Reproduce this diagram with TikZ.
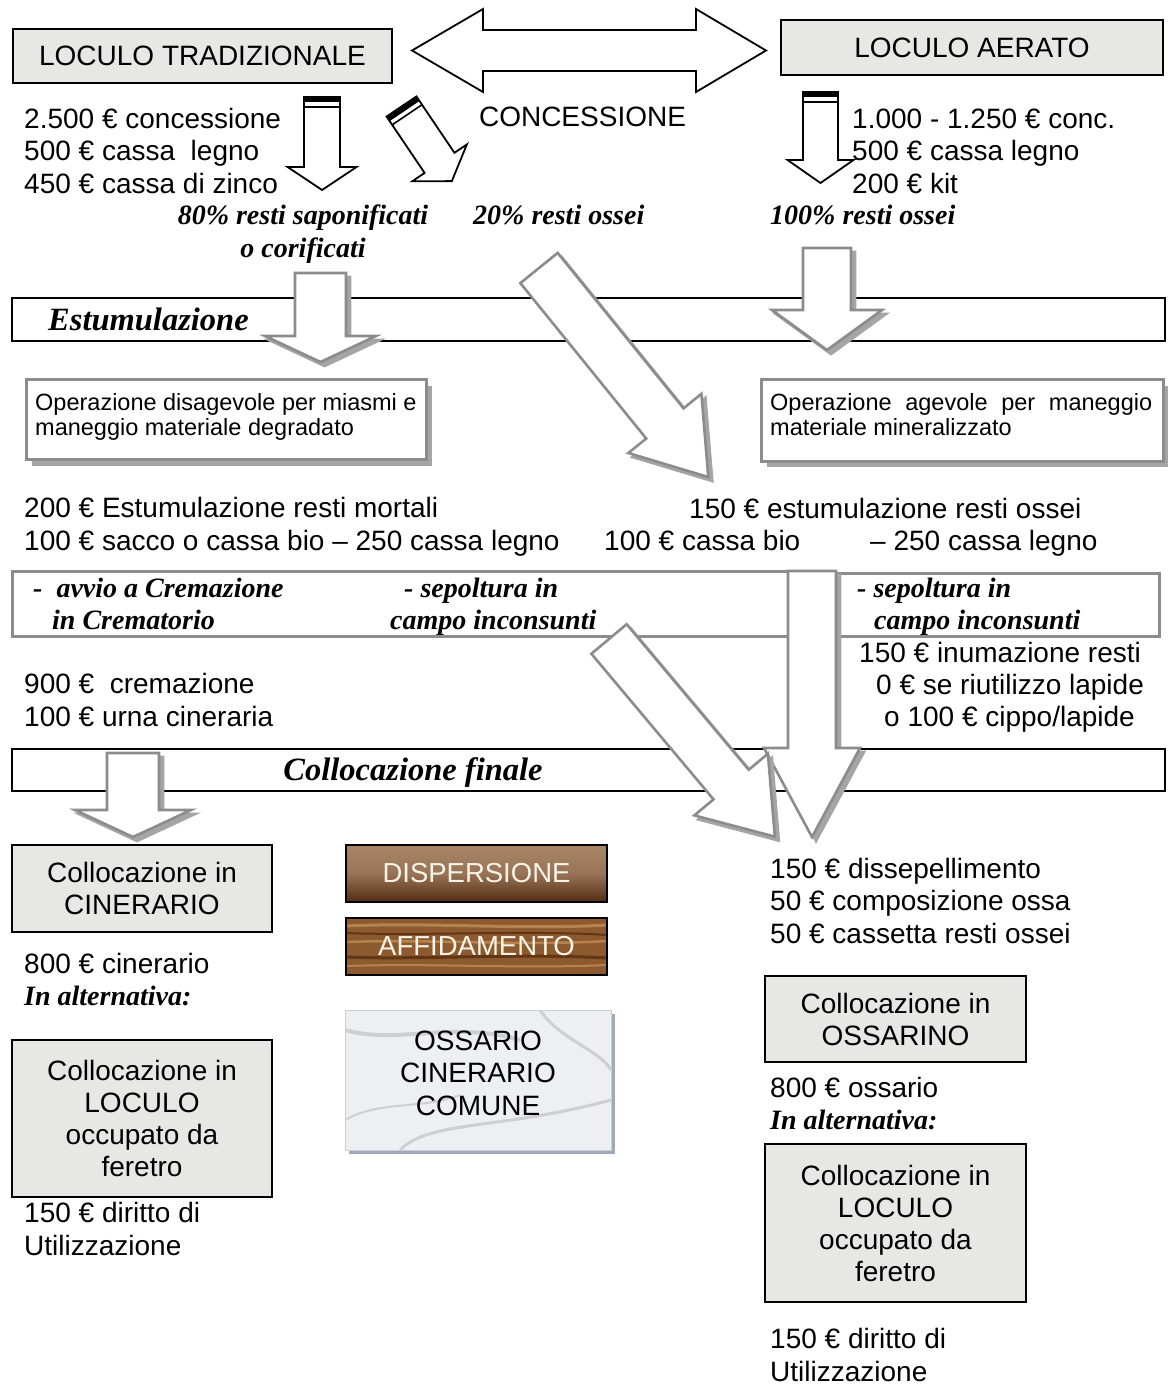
\documentclass[tikz,border=0pt]{standalone}
\usepackage{fontspec}
\setmainfont{Liberation Sans}
\newfontfamily\tnr{Liberation Serif}
\definecolor{granite}{RGB}{231,231,228}
\definecolor{gline}{RGB}{140,140,140}
\definecolor{gshad}{RGB}{165,165,165}
\definecolor{brownA}{RGB}{170,134,104}
\definecolor{brownB}{RGB}{82,44,18}
\definecolor{woodA}{RGB}{140,90,46}
\definecolor{woodB}{RGB}{96,54,22}
\definecolor{woodC}{RGB}{182,130,78}
\definecolor{marble}{RGB}{238,239,242}
\definecolor{marbleV}{RGB}{205,207,212}
\definecolor{marbleS}{RGB}{160,168,186}
\definecolor{cream}{RGB}{250,244,232}
\newcommand\BArrow[5]{\draw[#1] (0,-#3) -- ({#2-#5},-#3) -- ({#2-#5},-#4) -- (#2,0) -- ({#2-#5},#4) -- ({#2-#5},#3) -- (0,#3) -- cycle;}
\newcommand\GArrow[7]{%
  \begin{scope}[shift={({#1+4},{#2+4})},rotate=#3]\BArrow{gsh}{#4}{#5}{#6}{#7}\end{scope}
  \begin{scope}[shift={(#1,#2)},rotate=#3]\BArrow{gar}{#4}{#5}{#6}{#7}\end{scope}}
\newcommand\KArrow[7]{%
  \begin{scope}[shift={(#1,#2)},rotate=#3]
    \BArrow{kar}{#4}{#5}{#6}{#7}
    \fill (0,-#5) rectangle (5.5,#5);
    \draw[line width=1.6pt] (10,-#5) -- (10,#5);
  \end{scope}}
\begin{document}
\begin{tikzpicture}[x=1pt,y=-1pt,
  t/.style={inner sep=0pt, anchor=base west, align=left, font=\fontsize{28}{32.5}\selectfont},
  ti/.style={inner sep=0pt, anchor=base west, align=left, font=\tnr\bfseries\itshape\fontsize{28}{32.5}\selectfont},
  hd/.style={inner sep=0pt, anchor=base west, font=\tnr\bfseries\itshape\fontsize{32.5}{36}\selectfont},
  sm/.style={inner sep=0pt, anchor=base west, align=left, font=\fontsize{23.5}{25}\selectfont},
  lbox/.style={draw=black, line width=2pt, fill=granite, inner sep=0pt, align=center, font=\fontsize{28}{32}\selectfont},
  band/.style={draw=black, line width=1.5pt, inner sep=0pt, anchor=north west},
  gbox/.style={draw=gline, line width=3pt, inner sep=0pt, anchor=north west},
  obox/.style={draw=gline, line width=3pt, fill=white, inner sep=0pt, anchor=north west},
  gar/.style={fill=white, draw=gline, line width=2.6pt, line join=miter},
  gsh/.style={fill=gshad, draw=gshad, line width=2.6pt, line join=miter},
  kar/.style={fill=white, draw=black, line width=1.8pt, line join=miter},
  wbox/.style={draw=black, line width=2pt, inner sep=0pt, text=cream, font=\fontsize{27.5}{32}\selectfont},
]
\useasboundingbox (0,0) rectangle (1167,1386);

% ---------- top ----------
\node[lbox, minimum width=379pt, minimum height=54pt] (lt) at (202.5,56) {LOCULO TRADIZIONALE};
\node[lbox, minimum width=382pt, minimum height=55pt] (la) at (972,47.5) {LOCULO AERATO};
\draw[kar] (412,50.5) -- (483,9) -- (483,30) -- (696,30) -- (696,9) -- (766,50.5) -- (696,92) -- (696,71) -- (483,71) -- (483,92) -- cycle;
\node[t, anchor=base] (conc) at (582.5,127) {CONCESSIONE};

\node[t] (c1) at (24,193) {2.500 € concessione\\500 € cassa\ \ legno\\450 € cassa di zinco};
\node[t] (c2) at (852,193) {1.000 - 1.250 € conc.\\500 € cassa legno\\200 € kit};

\KArrow{322}{97}{-90}{93}{18}{34.5}{23}
\KArrow{401.5}{106.5}{-56}{90}{18}{33}{22}
\KArrow{820.5}{92}{-90}{91}{17.5}{33}{23}

\node[ti, anchor=base, align=center] (l80) at (303,257) {80\% resti saponificati\\o corificati};
\node[ti] (l20) at (473,224) {20\% resti ossei};
\node[ti] (l100) at (770,224) {100\% resti ossei};

% ---------- Estumulazione ----------
\node[band, minimum width=1153pt, minimum height=43pt] (estu) at (11,297) {};
\node[hd] (estut) at (48,330) {Estumulazione};

\fill[gshad] (32,386) rectangle (432,466);
\node[obox, minimum width=400pt, minimum height=80pt] (op1) at (25,378) {};
\node[sm] (op1t) at (35,435) {Operazione disagevole per miasmi e\\maneggio materiale degradato};
\fill[gshad] (767,386) rectangle (1169,467);
\node[obox, minimum width=402pt, minimum height=82pt] (op2) at (760,378) {};
\node[sm] (op2t) at (770,435) {\makebox[382pt][s]{Operazione agevole per maneggio}\\materiale mineralizzato};

\GArrow{320.5}{273}{-90}{89}{25.5}{55.5}{26}
\GArrow{827}{248}{-90}{102}{24}{55}{40}
\GArrow{539}{268}{-51}{269}{24}{47}{69}

\node[t] (e1) at (24,550) {200 € Estumulazione resti mortali\\100 € sacco o cassa bio – 250 cassa legno};
\node[t] (e2) at (689,518) {150 € estumulazione resti ossei};
\node[t] (e3) at (604,550) {100 € cassa bio};
\node[t] (e4) at (870,550) {– 250 cassa legno};

% ---------- second band ----------
\node[gbox, minimum width=777pt, minimum height=65pt] (b2l) at (11,570) {};
\node[gbox, minimum width=322pt, minimum height=63pt] (b2r) at (836,572) {};
\node[ti] (cr1) at (33,597) {-\hspace{14pt}avvio a Cremazione};
\node[ti] (cr2) at (52,629) {in Crematorio};
\node[ti] (sp1) at (404,597) {- sepoltura in};
\node[ti] (sp2) at (390,629) {campo inconsunti};
\node[ti] (sp3) at (857,597) {- sepoltura in};
\node[ti] (sp4) at (874,629) {campo inconsunti};

\node[t] (i1) at (859,662) {150 € inumazione resti};
\node[t] (i2) at (876,694) {0 € se riutilizzo lapide};
\node[t] (i3) at (884,726) {o 100 € cippo/lapide};
\node[t] (cm) at (24,726) {900 €\ \ cremazione\\100 € urna cineraria};

% ---------- Collocazione finale ----------
\node[band, minimum width=1153pt, minimum height=42pt] (coll) at (11,748) {};
\node[hd, anchor=base] (collt) at (413,780) {Collocazione finale};

\GArrow{812}{571}{-90}{266}{24}{48}{89}
\GArrow{609}{639}{-50}{258}{23}{48}{68}
\GArrow{133}{753}{-90}{84}{26}{58}{27}

% ---------- lower left ----------
\node[lbox, minimum width=260pt, minimum height=87pt] (cin) at (142,888.5) {Collocazione in\\CINERARIO};
\node[t] (cin1) at (24,973) {800 € cinerario};
\node[ti] (alt1) at (24,1005) {In alternativa:};
\node[lbox, minimum width=260pt, minimum height=157pt] (loc1) at (142,1118.5) {Collocazione in\\LOCULO\\occupato da\\feretro};
\node[t] (dir1) at (24,1255) {150 € diritto di\\Utilizzazione};

% ---------- middle ----------
\shade[top color=brownA, bottom color=brownB, middle color=brownA!80!brownB] (346,845) rectangle (607,902);
\node[wbox, minimum width=261pt, minimum height=57pt] (disp) at (476.5,873.5) {DISPERSIONE};
\begin{scope}
  \clip (346,918) rectangle (607,975);
  \fill[woodA] (346,918) rectangle (607,975);
  \draw[woodC, line width=3pt] (346,926) .. controls (430,922) and (520,930) .. (607,925);
  \draw[woodB, line width=2pt] (346,933) .. controls (420,936) and (530,930) .. (607,935);
  \draw[woodC, line width=2.5pt] (346,942) .. controls (430,939) and (520,946) .. (607,941);
  \draw[woodB, line width=3pt] (346,957) .. controls (420,960) and (520,953) .. (607,958);
  \draw[woodC, line width=2pt] (346,966) .. controls (430,963) and (520,969) .. (607,965);
\end{scope}
\node[wbox, minimum width=261pt, minimum height=57pt] (affi) at (476.5,946.5) {AFFIDAMENTO};

\fill[marbleS] (349,1014) rectangle (615,1154);
\begin{scope}
  \clip (345,1010) rectangle (611,1150);
  \fill[marble] (345,1010) rectangle (611,1150);
  \draw[marbleV, line width=4pt] (345,1030) .. controls (400,1045) and (450,1020) .. (520,1040);
  \draw[marbleV, line width=3pt] (400,1150) .. controls (430,1120) and (500,1130) .. (611,1100);
  \draw[marbleV, line width=2pt] (345,1120) .. controls (380,1100) and (420,1110) .. (460,1095);
  \draw[marbleV, line width=3pt] (540,1010) .. controls (560,1040) and (600,1050) .. (611,1070);
\end{scope}
\node[draw=marbleV, line width=0.8pt, inner sep=0pt, minimum width=266pt, minimum height=140pt] (oss) at (478,1080) {};
\node[t, anchor=base, align=center] (osst) at (478,1115) {OSSARIO\\CINERARIO\\COMUNE};

% ---------- lower right ----------
\node[t] (ds) at (770,943) {150 € dissepellimento\\50 € composizione ossa\\50 € cassetta resti ossei};
\node[lbox, minimum width=261pt, minimum height=86pt] (oss2) at (895.5,1019) {Collocazione in\\OSSARINO};
\node[t] (os1) at (770,1097) {800 € ossario};
\node[ti] (alt2) at (770,1129) {In alternativa:};
\node[lbox, minimum width=261pt, minimum height=158pt] (loc2) at (895.5,1223) {Collocazione in\\LOCULO\\occupato da\\feretro};
\node[t] (dir2) at (770,1381) {150 € diritto di\\Utilizzazione};
\end{tikzpicture}
\end{document}
